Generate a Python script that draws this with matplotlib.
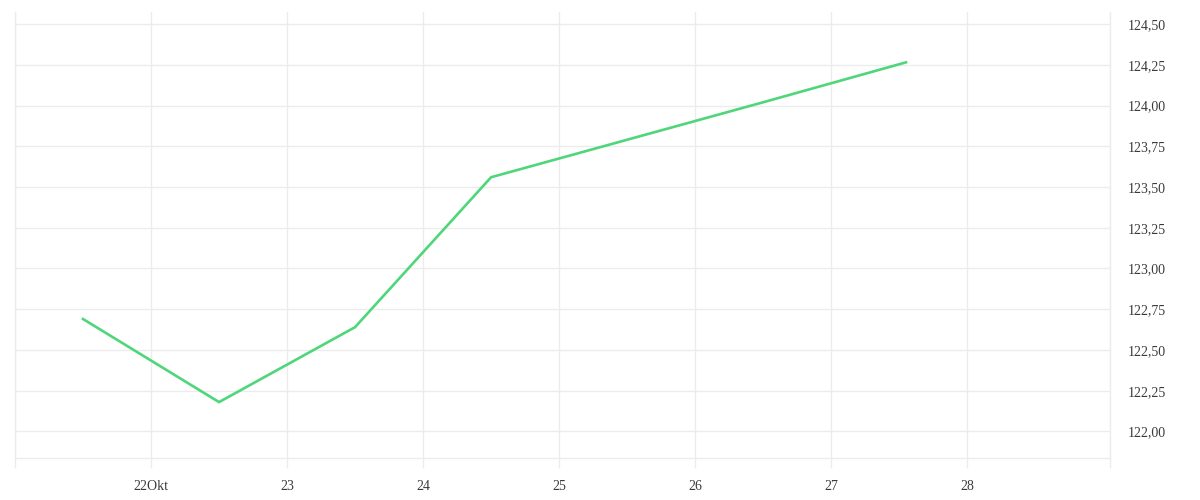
import matplotlib
matplotlib.use("Agg")
import matplotlib.pyplot as plt
from matplotlib.ticker import FixedLocator, FuncFormatter

# Data (x = day of October)
days = [21.5, 22.5, 23.5, 24.5, 25.5, 26.5, 27.55]
values = [122.69, 122.18, 122.64, 123.56, 123.79, 124.02, 124.265]

x_ticks = [21, 22, 23, 24, 25, 26, 27, 28, 29.05]
x_labels = ["", "22Okt", "23", "24", "25", "26", "27", "28", ""]
y_ticks = [122.00, 122.25, 122.50, 122.75, 123.00, 123.25, 123.50, 123.75, 124.00, 124.25, 124.50]

grid_c = "#ececec"
text_c = "#3a3a3a"
line_c = "#4fd67a"

plt.rcParams['font.family'] = ['Liberation Serif', 'DejaVu Serif']

fig = plt.figure(figsize=(12, 5), dpi=100)
ax = fig.add_axes([15/1200, 42/500, 1095/1200, 446/500])

ax.plot(days, values, color=line_c, linewidth=1.9, zorder=3)

ax.set_xlim(21, 29.05)
ax.set_ylim(121.837, 124.574)

ax.xaxis.set_major_locator(FixedLocator(x_ticks))
ax.set_xticklabels(x_labels)
ax.yaxis.set_major_locator(FixedLocator(y_ticks))
ax.yaxis.set_major_formatter(FuncFormatter(lambda v, p: f"{v:.2f}".replace('.', ',')))

ax.yaxis.tick_right()
ax.tick_params(axis='y', length=0, pad=13, labelsize=10, labelcolor=text_c)
ax.tick_params(axis='x', length=7.5, width=1, color=grid_c, pad=8, labelsize=10, labelcolor=text_c)

ax.grid(True, color=grid_c, linewidth=1)
ax.set_axisbelow(True)

for side in ['left', 'right', 'bottom']:
    ax.spines[side].set_color(grid_c)
    ax.spines[side].set_linewidth(1)
ax.spines['top'].set_visible(False)

fig.savefig("out.png", dpi=100, facecolor="white")
